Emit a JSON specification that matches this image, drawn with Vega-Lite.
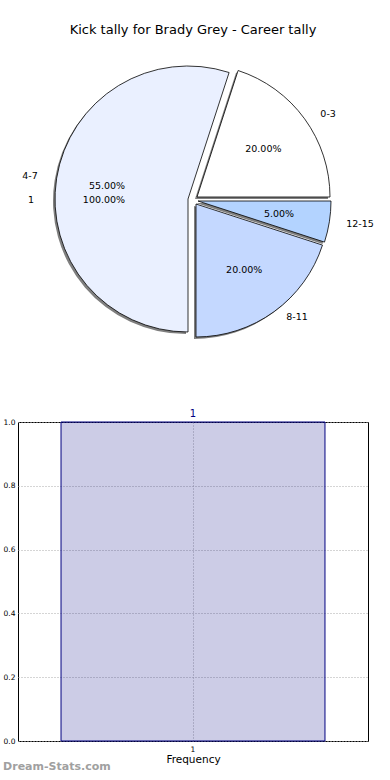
{
  "$schema": "https://vega.github.io/schema/vega-lite/v6.json",
  "padding": {"left": 2, "top": 24, "right": 0, "bottom": 0},
  "bounds": "flush",
  "spacing": 73,
  "config": {"font": "DejaVu Sans", "view": {"stroke": null}},
  "datasets": {
    "pie": [
      {"label": "0-3", "share": 0.20, "ord": 1},
      {"label": "12-15", "share": 0.05, "ord": 2},
      {"label": "8-11", "share": 0.20, "ord": 3},
      {"label": "4-7", "share": 0.55, "ord": 4}
    ],
    "pie2": [
      {"label": "1", "share": 1.0, "ord": 1}
    ],
    "freq": [
      {"bin": "1", "freq": 1}
    ]
  },
  "vconcat": [
    {
      "width": 350,
      "height": 298,
      "title": {"text": "Kick tally for Brady Grey - Career tally", "fontSize": 13, "fontWeight": "normal", "color": "black", "anchor": "middle", "offset": 14},
      "view": {"stroke": null},
      "resolve": {"scale": {"theta": "independent"}},
      "layer": [
        {
          "data": {"name": "pie"},
          "mark": {"type": "arc", "outerRadius": 133, "fill": "#7f7f7f", "stroke": null,
            "xOffset": {"expr": "datum.label === '0-3' ? 2 : datum.label === '12-15' ? 3 : datum.label === '8-11' ? 1 : -7"},
            "yOffset": {"expr": "datum.label === '0-3' ? -1 : datum.label === '12-15' ? 3 : datum.label === '8-11' ? 6 : 1"}},
          "encoding": {
            "theta": {"field": "share", "type": "quantitative", "stack": true, "scale": {"range": [0.31416, 6.59734]}},
            "order": {"field": "ord", "type": "quantitative", "sort": "ascending"}
          }
        },
        {
          "data": {"name": "pie"},
          "mark": {"type": "arc", "outerRadius": 133, "stroke": "black", "strokeWidth": 0.8,
            "xOffset": {"expr": "datum.label === '0-3' ? 4 : datum.label === '12-15' ? 5 : datum.label === '8-11' ? 3 : -5"},
            "yOffset": {"expr": "datum.label === '0-3' ? -3 : datum.label === '12-15' ? 1 : datum.label === '8-11' ? 4 : -1"}},
          "encoding": {
            "theta": {"field": "share", "type": "quantitative", "stack": true, "scale": {"range": [0.31416, 6.59734]}},
            "order": {"field": "ord", "type": "quantitative", "sort": "ascending"},
            "color": {"field": "label", "type": "nominal", "legend": null,
              "scale": {"domain": ["0-3", "12-15", "8-11", "4-7"], "range": ["#ffffff", "#b3d3ff", "#c4d8ff", "#eaf0ff"]}}
          }
        },
        {
          "data": {"name": "pie"},
          "mark": {"type": "text", "radius": 82, "fontSize": 9.5, "color": "black", "baseline": "middle", "align": "center",
            "xOffset": {"expr": "datum.label === '0-3' ? 4 : datum.label === '12-15' ? 5 : datum.label === '8-11' ? 3 : -5"},
            "yOffset": {"expr": "datum.label === '0-3' ? -3 : datum.label === '12-15' ? 1 : datum.label === '8-11' ? 4 : -1"}},
          "encoding": {
            "theta": {"field": "share", "type": "quantitative", "stack": true, "scale": {"range": [0.31416, 6.59734]}},
            "order": {"field": "ord", "type": "quantitative", "sort": "ascending"},
            "text": {"field": "share", "type": "quantitative", "format": ".2%"}
          }
        },
        {
          "data": {"name": "pie"},
          "mark": {"type": "text", "radius": 150, "fontSize": 9.5, "color": "black", "baseline": "middle",
            "align": {"expr": "datum.label === '4-7' ? 'right' : 'left'"},
            "xOffset": {"expr": "datum.label === '0-3' ? 6 : datum.label === '12-15' ? 5 : datum.label === '8-11' ? 5 : -7"},
            "yOffset": {"expr": "datum.label === '0-3' ? 2 : datum.label === '12-15' ? 1 : datum.label === '8-11' ? -4 : -1"}},
          "encoding": {
            "theta": {"field": "share", "type": "quantitative", "stack": true, "scale": {"range": [0.31416, 6.59734]}},
            "order": {"field": "ord", "type": "quantitative", "sort": "ascending"},
            "text": {"field": "label", "type": "nominal"}
          }
        },
        {
          "data": {"name": "pie2"},
          "mark": {"type": "text", "radius": 84, "fontSize": 9.5, "color": "black", "baseline": "middle", "align": "center", "xOffset": -5},
          "encoding": {
            "theta": {"field": "share", "type": "quantitative", "stack": true, "scale": {"range": [1.5708, 7.854]}},
            "text": {"field": "share", "type": "quantitative", "format": ".2%"}
          }
        },
        {
          "data": {"name": "pie2"},
          "mark": {"type": "text", "radius": 152, "fontSize": 9.5, "color": "black", "baseline": "middle", "align": "right", "xOffset": -7},
          "encoding": {
            "theta": {"field": "share", "type": "quantitative", "stack": true, "scale": {"range": [1.5708, 7.854]}},
            "text": {"field": "label", "type": "nominal"}
          }
        }
      ]
    },
    {
      "width": 350,
      "height": 319,
      "data": {"name": "freq"},
      "view": {"stroke": "black", "strokeWidth": 1},
      "title": {"text": "Dream-Stats.com", "orient": "bottom", "anchor": "start", "frame": "bounds", "offset": -4, "fontSize": 11, "fontWeight": "bold", "color": "#a0a0a0"},
      "layer": [
        {
          "mark": {"type": "bar", "fill": "#000080", "fillOpacity": 0.2, "stroke": "#000080", "strokeWidth": 1},
          "encoding": {
            "x": {"field": "bin", "type": "nominal",
              "scale": {"paddingInner": 0, "paddingOuter": 0.163},
              "axis": {"labelAngle": 0, "title": "Frequency", "grid": true, "gridDash": [1, 2], "gridColor": "#aaaaaa", "domain": false, "ticks": false, "labelFontSize": 7.5, "labelPadding": 4, "titleFontSize": 10.5, "titleFontWeight": "normal", "titlePadding": 2, "labelColor": "black", "titleColor": "black"}},
            "y": {"field": "freq", "type": "quantitative",
              "scale": {"domain": [0, 1], "nice": false},
              "axis": {"values": [0, 0.2, 0.4, 0.6, 0.8, 1.0], "format": ".1f", "title": null, "grid": true, "gridDash": [1, 2], "gridColor": "#aaaaaa", "domain": false, "ticks": false, "labelFontSize": 7.5, "labelPadding": 3, "labelFlush": false, "labelColor": "black"}}
          }
        },
        {
          "mark": {"type": "text", "color": "#000080", "baseline": "bottom", "dy": -3, "fontSize": 10},
          "encoding": {
            "x": {"field": "bin", "type": "nominal"},
            "y": {"field": "freq", "type": "quantitative"},
            "text": {"field": "freq", "type": "quantitative", "format": "d"}
          }
        }
      ]
    }
  ]
}
